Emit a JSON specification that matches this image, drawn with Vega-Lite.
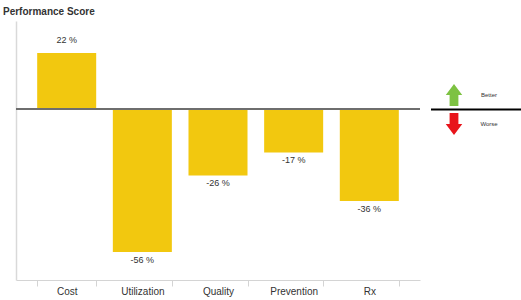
{
  "$schema": "https://vega.github.io/schema/vega-lite/v6.json",
  "padding": {"left": 3, "top": 7, "right": 0, "bottom": 4},
  "title": {"text": "Performance Score", "anchor": "start", "frame": "bounds", "fontSize": 10, "font": "Liberation Sans", "fontWeight": "bold", "color": "#333333", "offset": 4},
  "config": {"view": {"stroke": null}, "font": "Liberation Sans", "axisY": {"minExtent": 13, "maxExtent": 13}},
  "spacing": 9,
  "hconcat": [
    {
      "width": 404,
      "height": 259,
      "data": {"values": [
        {"category": "Cost", "score": 22, "label": "22 %"},
        {"category": "Utilization", "score": -56, "label": "-56 %"},
        {"category": "Quality", "score": -26, "label": "-26 %"},
        {"category": "Prevention", "score": -17, "label": "-17 %"},
        {"category": "Rx", "score": -36, "label": "-36 %"}
      ]},
      "layer": [
        {
          "mark": {"type": "bar", "color": "#F2C80F"},
          "encoding": {
            "x": {"field": "category", "type": "nominal", "sort": null,
              "scale": {"paddingInner": 0.22, "paddingOuter": 0.28},
              "axis": {"title": null, "labelAngle": 0, "tickBand": "extent", "domainColor": "#d4d4d4", "tickColor": "#d4d4d4", "tickSize": 6, "labelPadding": 0, "labelFontSize": 10, "labelColor": "#333333", "labelFont": "Liberation Sans"}},
            "y": {"field": "score", "type": "quantitative",
              "scale": {"domain": [-67, 34.5], "nice": false},
              "axis": {"labels": false, "ticks": false, "title": null, "grid": false, "domainColor": "#d9d9d9", "domainWidth": 1.5}}
          }
        },
        {
          "data": {"values": [{}]},
          "mark": {"type": "rule", "color": "#6e6e6e", "strokeWidth": 2},
          "encoding": {"y": {"datum": 0, "type": "quantitative"}}
        },
        {
          "mark": {"type": "text", "fontSize": 9, "color": "#333333",
            "baseline": {"expr": "datum.score >= 0 ? 'bottom' : 'top'"},
            "dy": {"expr": "datum.score >= 0 ? -8 : 4"}},
          "encoding": {
            "x": {"field": "category", "type": "nominal", "sort": null},
            "y": {"field": "score", "type": "quantitative"},
            "text": {"field": "label"}
          }
        }
      ]
    },
    {
      "width": 92,
      "height": 259,
      "data": {"values": [
        {"label": "Better", "direction": 1},
        {"label": "Worse", "direction": -1}
      ]},
      "layer": [
        {
          "data": {"values": [{}]},
          "mark": {"type": "rule", "color": "#000000", "strokeWidth": 2},
          "encoding": {"y": {"datum": 0, "type": "quantitative", "scale": {"domain": [-11.76, 6.1], "nice": false, "zero": false}, "axis": null}}
        },
        {
          "mark": {"type": "point", "filled": true, "size": 484, "opacity": 1},
          "encoding": {
            "x": {"datum": "arrow", "type": "nominal", "scale": {"type": "point", "domain": ["arrow", "label"], "range": [23, 58], "padding": 0}, "axis": null},
            "y": {"field": "direction", "type": "quantitative"},
            "shape": {"field": "label", "type": "nominal", "scale": {"domain": ["Better", "Worse"], "range": ["M0,-1L0.75,0L0.4,0L0.4,1L-0.4,1L-0.4,0L-0.75,0Z", "M0,1L0.75,0L0.4,0L0.4,-1L-0.4,-1L-0.4,0L-0.75,0Z"]}, "legend": null},
            "color": {"field": "label", "type": "nominal", "scale": {"domain": ["Better", "Worse"], "range": ["#7DC242", "#E8141B"]}, "legend": null}
          }
        },
        {
          "mark": {"type": "text", "fontSize": 6, "color": "#333333"},
          "encoding": {
            "x": {"datum": "label", "type": "nominal"},
            "y": {"field": "direction", "type": "quantitative"},
            "text": {"field": "label"}
          }
        }
      ]
    }
  ]
}
